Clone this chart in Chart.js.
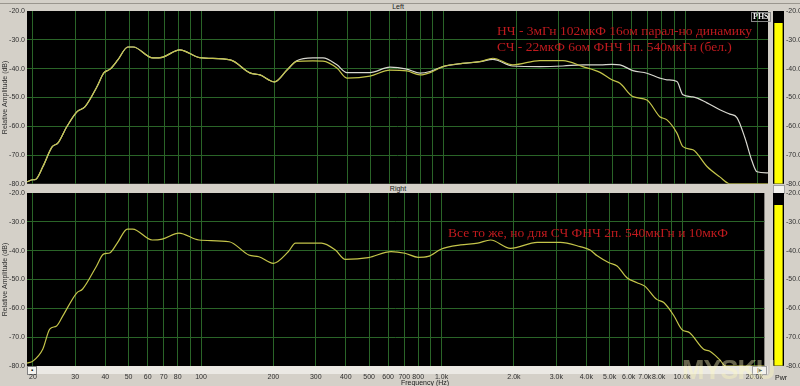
<!DOCTYPE html>
<html>
<head>
<meta charset="utf-8">
<script src="https://cdn.jsdelivr.net/npm/chart.js@4"></script>
<style>
  body { margin: 0; background: #d4d0c8; }
  #wrap { position: relative; width: 800px; height: 386px; overflow: hidden; font-family: "Liberation Sans", Arial, sans-serif; }
  canvas { position: absolute; }
  .cap { position: absolute; font-size: 7px; line-height: 8px; color: #202020; }
  .note { position: absolute; font-family: "Liberation Serif", "Times New Roman", serif; font-size: 13.5px; line-height: 17px; color: #c01a1e; white-space: nowrap; }
</style>
</head>
<body>
<div id="wrap">
  <div style="position:absolute;left:0;top:3px;width:800px;height:1px;background:#9a968e"></div>
  <div class="cap" style="left:0;width:796px;top:3px;text-align:center">Left</div>
  <div class="cap" style="left:0;width:796px;top:185px;text-align:center">Right</div>
  <div style="position:absolute;left:27px;top:366px;width:741px;height:8px;background:#ebe9e4"></div>
  <div style="position:absolute;left:27px;top:366px;width:8px;height:7px;border:1px solid #808080;background:#f4f3ef;font-size:6px;line-height:7px;text-align:center">&#9642;</div>
  <div style="position:absolute;left:752px;top:366px;width:13px;height:7px;border:1px solid #a0a0a0;background:#f4f3ef;font-size:6px;line-height:7px;text-align:center">|&#9656;</div>
  <div style="position:absolute;left:773px;top:185px;width:10px;height:7px;background:#f4f3ef;border:1px solid #a0a0a0"></div>

  <canvas id="top" width="770" height="190" style="left:0;top:0"></canvas>
  <canvas id="bot" width="770" height="200" style="left:0;top:186px"></canvas>
  <canvas id="mtop" width="30" height="190" style="left:770px;top:0"></canvas>
  <canvas id="mbot" width="30" height="190" style="left:770px;top:182px"></canvas>

  <div class="cap" style="left:385px;width:80px;top:379px;text-align:center">Frequency (Hz)</div>
  <div class="cap" style="left:775px;top:374px">Pwr</div>
  <div style="position:absolute;left:751px;top:12px;padding:0 1px;border:1px solid #888;font:bold 8px 'Liberation Serif',serif;line-height:8px;color:#f0f0f0">PHS</div>

  <div class="note" style="left:497px;top:23px;line-height:16px">НЧ - 3мГн 102мкФ 16ом парал-но динамику<br>СЧ - 22мкФ 6ом ФНЧ 1п. 540мкГн (бел.)</div>
  <div class="note" style="left:448px;top:224px">Все то же, но для СЧ ФНЧ 2п. 540мкГн и 10мкФ</div>

  <div style="position:absolute;left:682px;top:355px;font:bold 27px 'Liberation Sans',sans-serif;color:rgba(255,250,190,0.4);letter-spacing:-1px">MYSKU</div>
</div>
<script>
// frequency ticks (Hz) and labels, 90/900/9k have a grid line but no label
const xTicks = [20, 30, 40, 50, 60, 70, 80, 90, 100, 200, 300, 400, 500, 600, 700, 800, 900,
  1000, 2000, 3000, 4000, 5000, 6000, 7000, 8000, 9000, 10000, 20000];
const xLabels = ['20', '30', '40', '50', '60', '70', '80', '', '100', '200', '300', '400', '500', '600', '700', '800', '',
  '1.0k', '2.0k', '3.0k', '4.0k', '5.0k', '6.0k', '7.0k', '8.0k', '', '10.0k', '20.0k'];
const yTicks = [-20, -30, -40, -50, -60, -70, -80];

// Left channel: two measurements (white and yellow)
const freqLeft = [18.9, 20, 20.5, 22, 24, 25.4, 27.6, 30.4, 32.8, 36.8, 39.3, 41.7, 44.9, 49.4, 52,
  62.7, 69, 81, 98, 131, 158, 174, 200, 225, 247, 288, 317, 362, 398, 496, 600, 705, 800, 880, 994,
  1200, 1414, 1600, 1935, 2500, 3120, 3770, 4440, 4970, 5370, 6070, 6940, 7850, 8400, 9240, 9780,
  10760, 12300, 13900, 15300, 16360, 17650, 18870, 19800, 22000];
const leftWhite = [-79.3, -78.6, -78.5, -74, -67.2, -65.8, -60.2, -55, -53.3, -46.3, -41.5, -40.2, -37, -32.5, -32.5,
  -36.3, -36, -33.5, -36.2, -37, -41.5, -42.2, -44.6, -40.5, -37.3, -36.3, -36.3, -38.7, -41.4, -41.4, -39.5, -40.2, -41.6, -41, -39.3,
  -38.2, -37.6, -36.8, -39.1, -39.3, -39.1, -38.7, -38.7, -38.5, -38.7, -40.7, -41.6, -43.3, -43.9, -44.5, -49.1,
  -49.8, -51.9, -54.3, -55.8, -57, -64, -72, -75.8, -76.2];
const leftYellow = [-79.3, -78.6, -78.5, -74, -67.2, -65.8, -60.2, -55, -53.3, -46.3, -41.5, -40.2, -37, -32.5, -32.5,
  -36.3, -36, -33.5, -36.2, -37, -41.5, -42.2, -44.6, -40.5, -37.5, -37.3, -37.4, -39.8, -43.3, -42.6, -40.5, -40.8, -42.2, -41.4, -39.3,
  -38.2, -37.6, -36.4, -38.7, -37.2, -37.2, -39.3, -41.3, -43.9, -45.1, -49.7, -50.9, -56.7, -57.8, -62.4, -67.1,
  -68.2, -74, -77.6, -80, -80, -80, -80, -80, -80];

// Right channel
const freqRight = [18.9, 20, 22, 23.5, 25.1, 26.6, 30.4, 32.2, 36.8, 39.3, 41.7, 44.9, 49.4, 52, 62.7, 69, 81, 98,
  131, 158, 174, 200, 231, 247, 317, 362, 398, 496, 617, 705, 800, 880, 994, 1200, 1414, 1600,
  1935, 2500, 3120, 3770, 4150, 4440, 4970, 5370, 5900, 6500, 7000, 7850, 8400, 9240, 9970, 10760,
  12300, 13000, 14300, 15200, 22000];
const rightYellow = [-79, -78.3, -74.1, -67.2, -66.1, -62.7, -54.7, -53.3, -45.3, -41.2, -40.8, -37.3, -32.5, -32.5, -36.3, -36, -33.9, -36.3,
  -36.9, -41.5, -42.1, -44.4, -40.3, -37.4, -37.4, -39.8, -43, -42.4, -40.3, -40.9, -42.3, -42, -39.5, -38, -37.4, -36.3,
  -39.2, -37.1, -37.1, -38.6, -39.8, -41.8, -44.2, -45.3, -49.4, -51.1, -52.3, -56.9, -58, -62.5, -67.3, -68.5,
  -74.2, -74.8, -77.7, -80, -80];

// level meters
const meterLabels = ['Pwr'];
const meterFloor = -80;
const meterLeft = [-24.2];
const meterRight = [-24.2];

Chart.defaults.font.family = '"Liberation Sans", Arial, sans-serif';
Chart.defaults.font.size = 7;
Chart.defaults.color = '#303030';
Chart.defaults.animation = false;

const blackArea = {
  id: 'blackArea',
  beforeDraw(chart) {
    const { ctx, chartArea: a } = chart;
    ctx.save();
    ctx.fillStyle = '#000';
    ctx.fillRect(a.left, a.top, a.right - a.left, a.bottom - a.top);
    ctx.restore();
  }
};

const GRID = '#2a6428';

function points(xs, ys) {
  return xs.map((x, i) => ({ x: x, y: ys[i] }));
}

function line(data, color) {
  return {
    data: data,
    borderColor: color,
    borderWidth: 1.2,
    pointRadius: 0,
    cubicInterpolationMode: 'monotone',
    fill: false
  };
}

function freqChart(id, padTop, axisHeight, showLabels, datasets) {
  return new Chart(document.getElementById(id), {
    type: 'line',
    data: { datasets: datasets },
    plugins: [blackArea],
    options: {
      responsive: false,
      layout: { padding: { top: padTop, right: 2, left: 0, bottom: 0 } },
      plugins: { legend: { display: false }, tooltip: { enabled: false } },
      scales: {
        x: {
          type: 'logarithmic',
          min: 18.9,
          max: 22000,
          border: { display: false },
          grid: { color: GRID, drawTicks: false },
          afterBuildTicks: (s) => { s.ticks = xTicks.map(v => ({ value: v })); },
          afterFit: (s) => { s.height = axisHeight; },
          ticks: {
            display: showLabels,
            autoSkip: false,
            maxRotation: 0,
            minRotation: 0,
            padding: 7,
            callback: (v, i) => xLabels[i]
          }
        },
        y: {
          min: -80,
          max: -20,
          border: { display: false },
          grid: {
            drawTicks: false,
            color: (c) => (c.tick.value === -20 || c.tick.value === -80) ? 'rgba(0,0,0,0)' : GRID
          },
          afterBuildTicks: (s) => { s.ticks = yTicks.map(v => ({ value: v })); },
          afterFit: (s) => { s.width = 27; },
          ticks: { padding: 2, callback: (v) => v.toFixed(1) },
          title: { display: true, text: 'Relative Amplitude (dB)', padding: { top: 1, bottom: 0 } }
        }
      }
    }
  });
}

freqChart('top', 11, 6, false, [
  line(points(freqLeft, leftYellow), '#c4c44a'),
  line(points(freqLeft, leftWhite), '#d8d8d0')
]);
freqChart('bot', 7, 20, true, [
  line(points(freqRight, rightYellow), '#c4c44a')
]);

function meter(id, values) {
  return new Chart(document.getElementById(id), {
    type: 'bar',
    data: {
      labels: meterLabels,
      datasets: [{
        data: values.map(v => [meterFloor, v]),
        backgroundColor: '#ffff00',
        barPercentage: 0.75,
        categoryPercentage: 1
      }]
    },
    plugins: [blackArea],
    options: {
      responsive: false,
      layout: { padding: { top: 11, bottom: 6, left: 3, right: 0 } },
      plugins: { legend: { display: false }, tooltip: { enabled: false } },
      scales: {
        x: { display: false },
        y: {
          position: 'right',
          min: -80,
          max: -20,
          border: { display: false },
          grid: { display: false, drawTicks: false },
          afterBuildTicks: (s) => { s.ticks = yTicks.map(v => ({ value: v })); },
          afterFit: (s) => { s.width = 16; },
          ticks: { padding: 2, callback: (v) => v.toFixed(1) }
        }
      }
    }
  });
}

meter('mtop', meterLeft);
meter('mbot', meterRight);
</script>
</body>
</html>
